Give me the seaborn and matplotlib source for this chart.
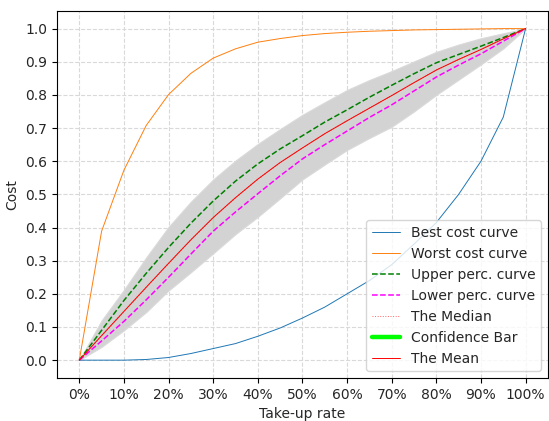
import matplotlib
matplotlib.use("Agg")
import matplotlib.pyplot as plt
import matplotlib.ticker as mticker
import numpy as np
import pandas as pd
import seaborn as sns

# Take-up rate grid (5% steps)
take_up = [0.00, 0.05, 0.10, 0.15, 0.20, 0.25, 0.30, 0.35, 0.40, 0.45, 0.50,
           0.55, 0.60, 0.65, 0.70, 0.75, 0.80, 0.85, 0.90, 0.95, 1.00]

best_cost = [0.000, 0.000, 0.000, 0.002, 0.008, 0.020, 0.035, 0.050, 0.072, 0.097, 0.127,
             0.160, 0.200, 0.240, 0.288, 0.350, 0.415, 0.500, 0.600, 0.733, 1.000]
worst_cost = [0.000, 0.389, 0.573, 0.708, 0.801, 0.865, 0.911, 0.939, 0.959, 0.970, 0.979,
              0.985, 0.989, 0.992, 0.994, 0.996, 0.997, 0.998, 0.999, 1.000, 1.000]
upper_perc = [0.000, 0.090, 0.180, 0.262, 0.340, 0.413, 0.480, 0.540, 0.592, 0.637, 0.677,
              0.718, 0.755, 0.793, 0.829, 0.864, 0.897, 0.922, 0.947, 0.973, 1.000]
lower_perc = [0.000, 0.058, 0.117, 0.182, 0.250, 0.320, 0.389, 0.447, 0.502, 0.556, 0.607,
              0.650, 0.691, 0.732, 0.770, 0.812, 0.854, 0.890, 0.924, 0.962, 1.000]
mean_cost = [0.000, 0.074, 0.147, 0.220, 0.292, 0.363, 0.430, 0.490, 0.546, 0.596, 0.640,
             0.683, 0.722, 0.760, 0.798, 0.837, 0.875, 0.907, 0.937, 0.969, 1.000]
median_cost = [0.000, 0.074, 0.147, 0.220, 0.292, 0.363, 0.430, 0.490, 0.546, 0.596, 0.640,
               0.683, 0.722, 0.760, 0.798, 0.837, 0.875, 0.907, 0.937, 0.969, 1.000]

# Envelope of the simulated cost curves
sim_high = [0.000, 0.120, 0.212, 0.310, 0.402, 0.478, 0.545, 0.602, 0.652, 0.697, 0.740,
            0.778, 0.815, 0.845, 0.872, 0.901, 0.930, 0.952, 0.971, 0.986, 1.000]
sim_low = [0.000, 0.040, 0.090, 0.145, 0.210, 0.265, 0.322, 0.380, 0.432, 0.488, 0.545,
           0.590, 0.634, 0.670, 0.704, 0.750, 0.800, 0.846, 0.892, 0.940, 1.000]

conf_x = 0.30
conf_low = 0.389
conf_high = 0.480

sns.set_style("whitegrid", {
    "axes.edgecolor": "black",
    "grid.color": "#d9d9d9",
    "grid.linestyle": "--",
    "xtick.bottom": True,
    "ytick.left": True,
})
plt.rcParams["font.family"] = ["DejaVu Sans"]
plt.rcParams["font.size"] = 10

fig = plt.figure(figsize=(5.49, 4.21), dpi=100)
ax = fig.add_axes([0.1038, 0.102, 0.8942, 0.8726])

df = pd.DataFrame({
    "x": take_up, "best": best_cost, "worst": worst_cost, "upper": upper_perc,
    "lower": lower_perc, "mean": mean_cost, "median": median_cost,
    "hi": sim_high, "lo": sim_low,
})

# Spread of the simulated curves
ax.fill_between(df["x"], df["lo"], df["hi"], color="#d3d3d3", lw=0.8,
                edgecolor="#dadada", zorder=1)

sns.lineplot(data=df, x="x", y="best", ax=ax, color="#1f77b4", lw=0.7,
             label="Best cost curve", zorder=3)
sns.lineplot(data=df, x="x", y="worst", ax=ax, color="#ff7f0e", lw=0.7,
             label="Worst cost curve", zorder=3)
sns.lineplot(data=df, x="x", y="upper", ax=ax, color="green", lw=1.1,
             linestyle="--", label="Upper perc. curve", zorder=3)
sns.lineplot(data=df, x="x", y="lower", ax=ax, color="magenta", lw=1.1,
             linestyle="--", label="Lower perc. curve", zorder=3)
sns.lineplot(data=df, x="x", y="median", ax=ax, color="red", lw=0.7,
             linestyle=":", alpha=0.6, label="The Median", zorder=3)
conf = pd.DataFrame({"x": [conf_x, conf_x], "y": [conf_low, conf_high]})
sns.lineplot(data=conf, x="x", y="y", ax=ax, color="lime", lw=3.2,
             label="Confidence Bar", zorder=4)
sns.lineplot(data=df, x="x", y="mean", ax=ax, color="red", lw=0.7,
             label="The Mean", zorder=3)

ax.set_xlim(-0.05, 1.05)
ax.set_ylim(-0.054, 1.054)
ax.set_xticks(np.arange(0, 1.01, 0.1))
ax.set_yticks(np.arange(0, 1.01, 0.1))
ax.xaxis.set_major_formatter(mticker.PercentFormatter(1.0, decimals=0))
ax.yaxis.set_major_formatter(mticker.FormatStrFormatter("%.1f"))
ax.tick_params(axis="both", direction="out", length=3.5, width=0.8,
               color="black", labelsize=10, pad=3.5)
for s in ax.spines.values():
    s.set_color("black")
    s.set_linewidth(0.8)
ax.set_xlabel("Take-up rate", fontsize=10)
ax.set_ylabel("Cost", fontsize=10)
ax.grid(True, linestyle="--", color="#d9d9d9", lw=0.8)
ax.set_axisbelow(True)

ax.legend(loc="lower right", fontsize=10, framealpha=0.8, fancybox=True,
          edgecolor="#cccccc", borderaxespad=0.5)

fig.savefig("out.png", dpi=100)
